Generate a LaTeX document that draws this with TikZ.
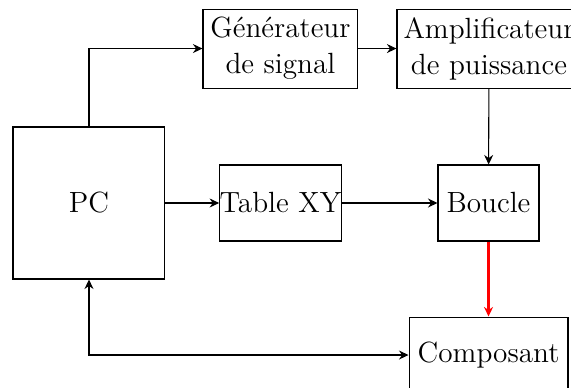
\documentclass[tikz,border=0pt]{standalone}
\usetikzlibrary{arrows.meta}

\begin{document}
\begin{tikzpicture}[>={Stealth[length=3.6pt,width=3.4pt,inset=1.2pt]}]

        \useasboundingbox (0,0) rectangle (7.553,-5.119);

        \begin{scope}[every node/.style={rectangle,draw,align=center,inner sep=0pt,
            font=\fontsize{11}{13.5}\selectfont}]
          \node[minimum width=2.01cm,minimum height=2.01cm]  (pc)   at (1.177,-2.685) {PC};
          \node[minimum width=2.05cm,minimum height=1.045cm] (gen)  at (3.710,-0.642) {Générateur\\de signal};
          \node[minimum width=2.434cm,minimum height=1.045cm](amp)  at (6.468,-0.642) {Amplificateur\\de puissance};
          \node[minimum width=1.60cm,minimum height=1.005cm] (xy)   at (3.710,-2.685) {Table XY};
          \node[minimum width=1.336cm,minimum height=1.005cm](loop) at (6.462,-2.685) {Boucle};
          \node[minimum width=2.103cm,minimum height=1.005cm](comp) at (6.462,-4.696) {Composant};
        \end{scope}

        \draw[->] (pc.north) |- (gen.west);
        \draw[->] (gen) -- (amp);
        \draw[->] (amp) -- (loop);
        \draw[->] (pc) -- (xy);
        \draw[->] (xy) -- (loop);
        \draw[->,red,thick] (loop) -- (comp);
        \draw[<->] (comp.west) -| (pc.south);

      \end{tikzpicture}
\end{document}
